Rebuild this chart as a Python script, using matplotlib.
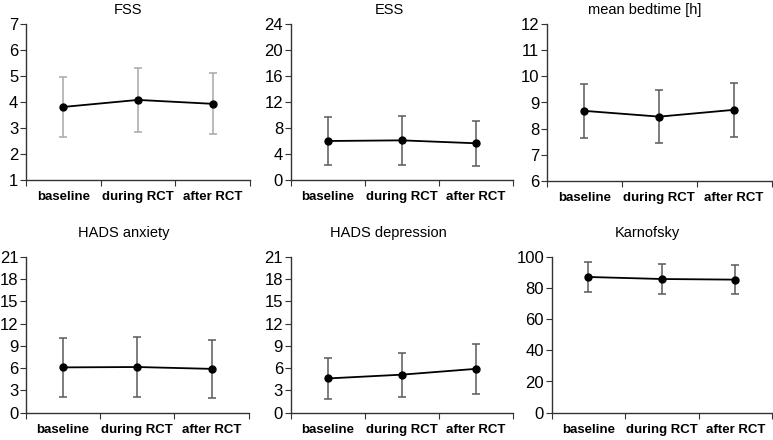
import numpy as np
import matplotlib
matplotlib.use("Agg")
import matplotlib.pyplot as plt

plt.rcParams['font.family'] = ['Liberation Sans', 'DejaVu Sans']

# Data (means and standard deviations)
phases = ['baseline', 'during RCT', 'after RCT']

titles = ['FSS', 'ESS', 'mean bedtime [h]', 'HADS anxiety', 'HADS depression', 'Karnofsky']

fss_mean = [3.81, 4.08, 3.93]
fss_sd = [1.14, 1.23, 1.17]
ess_mean = [6.0, 6.1, 5.65]
ess_sd = [3.7, 3.75, 3.45]
bed_mean = [8.68, 8.46, 8.72]
bed_sd = [1.04, 1.02, 1.04]
anx_mean = [6.1, 6.15, 5.9]
anx_sd = [4.0, 4.05, 3.87]
dep_mean = [4.61, 5.12, 5.9]
dep_sd = [2.7, 2.95, 3.38]
kps_mean = [87.0, 85.7, 85.3]
kps_sd = [9.5, 9.3, 9.4]

means = [fss_mean, ess_mean, bed_mean, anx_mean, dep_mean, kps_mean]
sds = [fss_sd, ess_sd, bed_sd, anx_sd, dep_sd, kps_sd]

y_ranges = [(1, 7, 1), (0, 24, 4), (6, 12, 1), (0, 21, 3), (0, 21, 3), (0, 100, 20)]

# Layout in pixels: left, top, right, bottom
W, H = 773, 440
boxes = [(26, 24, 250, 180), (290.7, 24, 512.7, 180), (547, 24, 771.5, 181),
         (26, 256.7, 248.7, 412.7), (290.7, 256.7, 512.7, 412.7), (551.7, 256.7, 772, 412.7)]
title_pos = [(128, 10), (389, 10), (645, 10), (124, 233), (388, 233), (647, 233)]
err_colors = ['#a8a8a8', '#5a5a5a', '#5a5a5a', '#5a5a5a', '#5a5a5a', '#5a5a5a']

fig = plt.figure(figsize=(W / 100, H / 100), dpi=100)

x = np.arange(len(phases)) + 0.5
for i in range(6):
    l, t, r, b = boxes[i]
    ax = fig.add_axes([l / W, 1 - b / H, (r - l) / W, (b - t) / H])
    ax.errorbar(x, means[i], yerr=sds[i], fmt='none', ecolor=err_colors[i],
                elinewidth=1.1, capsize=3, capthick=1.1, zorder=2)
    ax.plot(x, means[i], color='black', lw=1.3, marker='o', ms=5, zorder=3)

    lo, hi, step = y_ranges[i]
    ax.set_ylim(lo, hi)
    ax.set_yticks(np.arange(lo, hi + step / 2, step))
    ax.set_xlim(0, 3)
    ax.set_xticks([0, 1, 2, 3])
    ax.set_xticklabels([])
    ax.set_xticks(x, minor=True)
    ax.set_xticklabels(phases, minor=True, fontsize=9.5, fontweight='bold')
    ax.tick_params(axis='x', which='minor', length=0, pad=8)
    ax.tick_params(axis='x', which='major', length=4, direction='out', color='#333333')
    ax.tick_params(axis='y', length=4, pad=1.5, labelsize=12, color='#333333')

    for side in ['top', 'right']:
        ax.spines[side].set_visible(False)
    for side in ['left', 'bottom']:
        ax.spines[side].set_color('#333333')
        ax.spines[side].set_linewidth(1.0)

    tx, ty = title_pos[i]
    fig.text(tx / W, 1 - ty / H, titles[i], ha='center', va='center', fontsize=10.5)

fig.savefig('out.png', dpi=100, facecolor='white')
